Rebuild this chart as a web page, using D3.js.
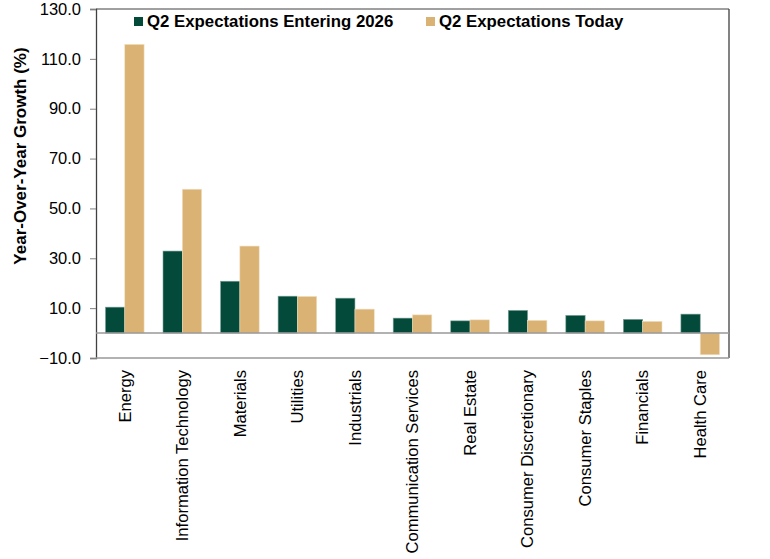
<!DOCTYPE html>
<html>
<head>
<meta charset="utf-8">
<script src="https://cdn.jsdelivr.net/npm/d3@7"></script>
<style>
  body { margin: 0; background: #fff; }
  text { font-family: "Liberation Sans", Arial, sans-serif; fill: #000; }
</style>
</head>
<body>
<svg id="chart" width="770" height="559"></svg>
<script>
const sectors = ["Energy", "Information Technology", "Materials", "Utilities", "Industrials",
    "Communication Services", "Real Estate", "Consumer Discretionary", "Consumer Staples",
    "Financials", "Health Care"];
const seriesNames = ["Q2 Expectations Entering 2026", "Q2 Expectations Today"];
const entering2026 = [10.4, 32.9, 20.8, 14.8, 14.0, 6.0, 4.9, 9.1, 7.1, 5.5, 7.6];
const today = [115.8, 57.7, 34.9, 14.7, 9.6, 7.3, 5.3, 5.1, 4.9, 4.7, -8.7];
const yTicks = [-10, 10, 30, 50, 70, 90, 110, 130];
const colors = ["#044a3a", "#d9b274"];

const svg = d3.select("#chart");
const plotLeft = 96, plotRight = 729, plotTop = 9, plotBottom = 358;

const x = d3.scaleBand().domain(sectors).range([plotLeft, plotRight]);
const xInner = d3.scaleBand().domain(seriesNames).range([0, x.bandwidth()]).paddingOuter(0.49);
const y = d3.scaleLinear().domain([-10, 130]).range([plotBottom, plotTop]);

// frame
svg.append("line").attr("x1", plotLeft).attr("x2", plotRight).attr("y1", plotTop).attr("y2", plotTop)
    .attr("stroke", "#404040").attr("stroke-width", 1);
svg.append("line").attr("x1", plotRight).attr("x2", plotRight).attr("y1", plotTop).attr("y2", plotBottom)
    .attr("stroke", "#404040").attr("stroke-width", 1.3);

// y axis
const yAxis = svg.append("g")
    .attr("transform", "translate(" + plotLeft + ",0)")
    .call(d3.axisLeft(y).tickValues(yTicks).tickFormat(d3.format(".1f")).tickSize(6).tickPadding(9));
yAxis.select(".domain").attr("stroke", "#404040").attr("stroke-width", 1.3);
yAxis.selectAll(".tick line").attr("stroke", "#808080");
yAxis.selectAll("text").style("font-size", "16.5px").attr("fill", "#000");

// bars
const rows = sectors.map((s, i) => ({ name: s, values: [entering2026[i], today[i]] }));
const groups = svg.selectAll(".grp").data(rows).enter().append("g")
    .attr("transform", d => "translate(" + x(d.name) + ",0)");
groups.selectAll("rect")
    .data(d => d.values.map((v, j) => ({ key: seriesNames[j], value: v, j: j })))
    .enter().append("rect")
    .attr("x", d => xInner(d.key))
    .attr("width", xInner.bandwidth())
    .attr("y", d => y(Math.max(0, d.value)))
    .attr("height", d => Math.abs(y(d.value) - y(0)))
    .attr("fill", d => colors[d.j])
    .attr("stroke", d => d.j === 0 ? "#7fa39a" : "#f1e0bf")
    .attr("stroke-width", 0.6);

// zero line and bottom
svg.append("line").attr("x1", plotLeft).attr("x2", plotRight).attr("y1", y(0)).attr("y2", y(0))
    .attr("stroke", "#999").attr("stroke-width", 1.5);
svg.append("line").attr("x1", plotLeft).attr("x2", plotRight).attr("y1", plotBottom).attr("y2", plotBottom)
    .attr("stroke", "#999").attr("stroke-width", 1.5);

// x labels
svg.selectAll(".xlab").data(sectors).enter().append("text")
    .attr("transform", d => "translate(" + (x(d) + x.bandwidth() / 2) + ",370) rotate(-90)")
    .attr("text-anchor", "end")
    .attr("dy", "0.35em")
    .style("font-size", "16.6px")
    .text(d => d);

// y label
svg.append("text")
    .attr("transform", "translate(26,156) rotate(-90)")
    .attr("text-anchor", "middle")
    .style("font-size", "17px")
    .style("font-weight", "bold")
    .text("Year-Over-Year Growth (%)");

// legend
const legendX = [134, 426];
const legend = svg.selectAll(".leg").data(seriesNames).enter().append("g")
    .attr("transform", (d, i) => "translate(" + legendX[i] + ",0)");
legend.append("rect").attr("x", 0).attr("y", 17).attr("width", 9).attr("height", 9)
    .attr("fill", (d, i) => colors[i]);
legend.append("text").attr("x", 13).attr("y", 27)
    .style("font-size", "16.8px").style("font-weight", "bold")
    .text(d => d);
</script>
</body>
</html>
